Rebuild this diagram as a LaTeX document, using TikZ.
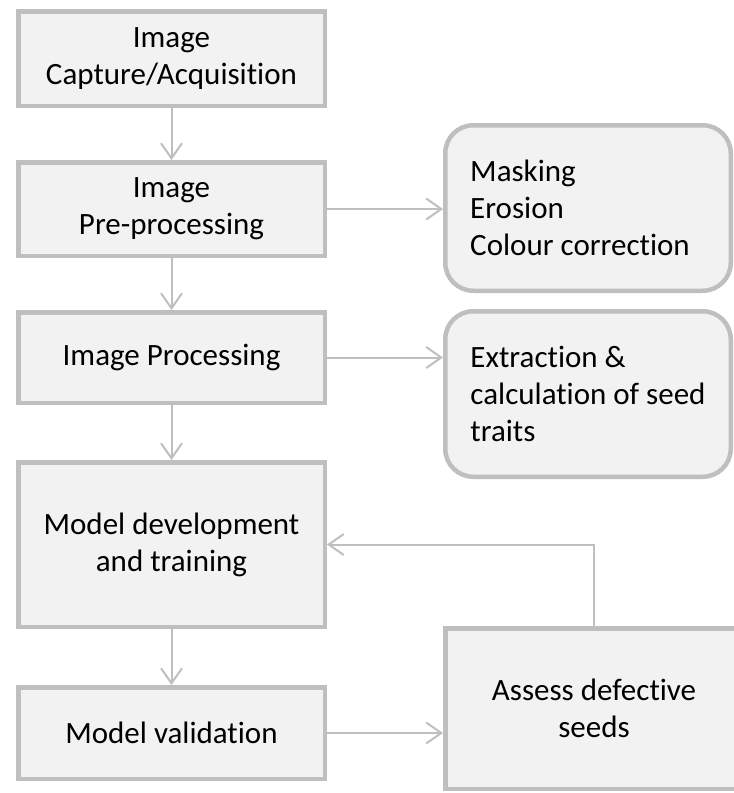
\documentclass[tikz,border=0pt]{standalone}
\usepackage{fontspec}
\setmainfont{Carlito}[Ligatures=CommonOff]
\usetikzlibrary{arrows.meta}
\definecolor{bord}{HTML}{BFBFBF}
\definecolor{boxfill}{HTML}{F2F2F2}
\begin{document}
\begin{tikzpicture}[x=1pt,y=-1pt,
  every node/.style={font=\fontsize{31pt}{37pt}\selectfont, text=black},
  mainbox/.style={draw=bord, fill=boxfill, line width=4.5pt, rectangle,
    minimum width=306.5pt, align=center, inner sep=0pt},
  sidebox/.style={draw=bord, fill=boxfill, line width=4.5pt, rectangle,
    rounded corners=28pt, minimum width=285.5pt, minimum height=165.5pt,
    inner sep=0pt, align=left},
  conn/.style={draw=bord, line width=2pt,
    -{Straight Barb[length=15pt,width=21pt,line width=2pt]}}]
\fill[white] (0,0) rectangle (734,793);
\useasboundingbox (0,0) rectangle (734,793);

\node[mainbox, minimum height=94.5pt] (b1) at (171.5,58.5) {Image\\Capture/Acquisition};
\node[mainbox, minimum height=93.5pt] (b2) at (171.5,209) {Image\\Pre-processing};
\node[mainbox, minimum height=90.5pt] (b3) at (171.5,357.5) {Image Processing};
\node[mainbox, minimum height=164.5pt] (b4) at (171.5,544.5) {Model development\\and training};
\node[mainbox, minimum height=91.5pt] (b5) at (171.5,733) {Model validation};

\node[sidebox] (r1) at (588,208) {Masking\\Erosion\\Colour correction\hspace*{16pt}};
\node[sidebox] (r2) at (588,394) {Extraction \&\\calculation of seed\\traits};
\node[mainbox, minimum width=297.5pt, minimum height=160.5pt] (as) at (594,708.5) {Assess defective\\seeds};

\draw[conn] (b1) -- (b2);
\draw[conn] (b2) -- (b3);
\draw[conn] (b3) -- (b4);
\draw[conn] (b4) -- (b5);
\draw[conn] (b2.east) -- (b2.east -| r1.west);
\draw[conn] (b3.east) -- (b3.east -| r2.west);
\draw[conn] (b5.east) -- (b5.east -| as.west);
\draw[conn] (as.north) |- (b4.east);
\end{tikzpicture}
\end{document}
